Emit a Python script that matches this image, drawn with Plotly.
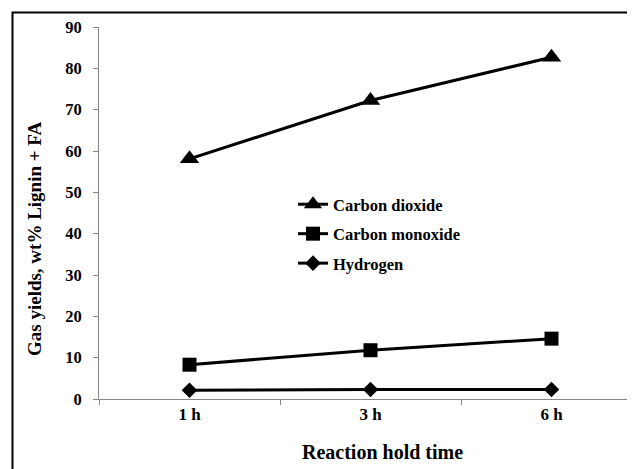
import plotly.graph_objects as go

categories = ["1 h", "3 h", "6 h"]
co2 = [58.1, 72.2, 82.7]
co = [8.3, 11.8, 14.6]
h2 = [2.1, 2.3, 2.3]
series_names = ["Carbon dioxide", "Carbon monoxide", "Hydrogen"]
y_ticks = [0, 10, 20, 30, 40, 50, 60, 70, 80, 90]

FONT = "Liberation Serif"
OFF = 8  # page body margin
W, H = 635 - OFF, 469 - OFF
PL, PT, PB, PR = 99, 27, 399, 635  # plot area in window pixels
L, T = PL - OFF, PT - OFF
B = H - (PB - OFF)
plot_w = PR - PL
plot_h = PB - PT
cat_px = 181.0


def px(x):
    return (x - PL) / plot_w


def py(y):
    return (PB - y) / plot_h


fig = go.Figure()
symbols = ["triangle-up", "square", "diamond"]
sizes = [17, 14, 12]
for name, vals, sym, sz in zip(series_names, [co2, co, h2], symbols, sizes):
    fig.add_trace(go.Scatter(
        x=categories, y=vals, name=name, mode="lines+markers",
        legendgroup=name,
        line=dict(color="black", width=3),
        marker=dict(symbol=sym, size=sz, color="black"),
    ))

fig.update_layout(
    width=W, height=H,
    margin=dict(l=L, r=0, t=T, b=B),
    paper_bgcolor="white", plot_bgcolor="white",
    font=dict(family=FONT, color="black"),
    showlegend=True,
    legend=dict(
        x=px(293), y=py(187),
        xanchor="left", yanchor="top",
        bgcolor="rgba(0,0,0,0)",
        font=dict(family=FONT, size=16.5, color="black", weight="bold"),
        traceorder="grouped", tracegroupgap=5,
    ),
    xaxis=dict(
        type="category",
        range=[-0.5, -0.5 + plot_w / cat_px],
        showgrid=False, zeroline=False,
        showline=True, linecolor="#868686", linewidth=1,
        ticks="outside", ticklen=5, tickcolor="#868686",
        tickson="boundaries",
        tickfont=dict(family=FONT, size=17, color="black", weight="bold"),
    ),
    yaxis=dict(
        range=[0, 90], tickvals=y_ticks,
        showgrid=False, zeroline=False,
        showline=True, linecolor="#868686", linewidth=1,
        ticks="outside", ticklen=5, tickcolor="#868686",
        ticklabelstandoff=8,
        tickfont=dict(family=FONT, size=16.5, color="black", weight="bold"),
    ),
)

fig.add_annotation(
    text="Reaction hold time", xref="paper", yref="paper",
    x=px(382), y=py(452),
    xanchor="center", yanchor="middle", showarrow=False,
    font=dict(family=FONT, size=20, color="black", weight="bold"),
)
fig.add_annotation(
    text="Gas yields, wt% Lignin + FA", xref="paper", yref="paper",
    x=px(35), y=py(239), textangle=-90,
    xanchor="center", yanchor="middle", showarrow=False,
    font=dict(family=FONT, size=19, color="black", weight="bold"),
)

fig.add_shape(
    type="rect", xref="paper", yref="paper",
    x0=px(12.5), x1=1.05,
    y0=-0.3, y1=py(12.5),
    line=dict(color="black", width=2), fillcolor="rgba(0,0,0,0)",
    layer="below",
)

fig.write_html("out.html")
